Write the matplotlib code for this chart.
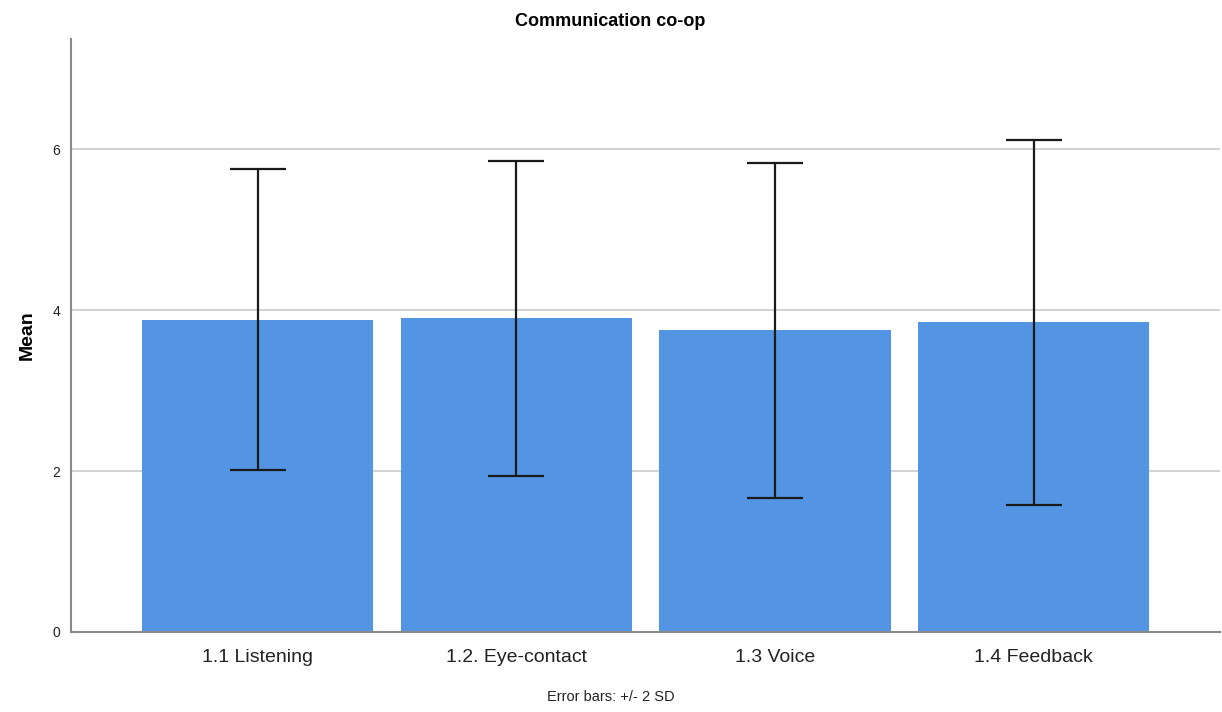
import matplotlib.pyplot as plt
import numpy as np

plt.rcParams['font.family'] = ['Liberation Sans', 'DejaVu Sans']

# Werte
kategorien = ["1.1 Listening", "1.2. Eye-contact", "1.3 Voice", "1.4 Feedback"]
mittelwerte = [3.88, 3.90, 3.75, 3.85]
fehler_2sd = [1.87, 1.96, 2.08, 2.27]

fig = plt.figure(figsize=(12.22, 7.12), dpi=100)
ax = fig.add_axes([0.0581, 0.1124, 0.940, 0.8326])

x = np.arange(len(kategorien))
ax.bar(x, mittelwerte, width=0.894, color="#5495e3", zorder=2)
ax.errorbar(x, mittelwerte, yerr=fehler_2sd, fmt="none", ecolor="#1a1a1a",
            elinewidth=1.6, capsize=20, capthick=1.6, zorder=3)

ax.set_xlim(-0.723, 3.72)
ax.set_ylim(0, 7.37)
ax.set_yticks([0, 2, 4, 6])
ax.set_xticks(x)
ax.set_xticklabels(kategorien, fontsize=14, color="#222222")
ax.tick_params(axis="y", labelsize=10, length=0, pad=8, colors="#222222")
ax.tick_params(axis="x", length=0, pad=12)

for yv in [2, 4, 6]:
    ax.axhline(yv, color="#cfcfcf", lw=1.3, zorder=1)

for s in ["top", "right"]:
    ax.spines[s].set_visible(False)
for s in ["left", "bottom"]:
    ax.spines[s].set_color("#8a8a8a")
    ax.spines[s].set_linewidth(1.5)

ax.set_ylabel("Mean", fontsize=14, fontweight="bold", labelpad=12)
fig.text(0.4995, 0.970, "Communication co-op", ha="center", va="center",
         fontsize=13, fontweight="bold")
fig.text(0.4995, 0.021, "Error bars: +/- 2 SD", ha="center", va="center",
         fontsize=10.5, color="#222222")

plt.savefig("out.png")
